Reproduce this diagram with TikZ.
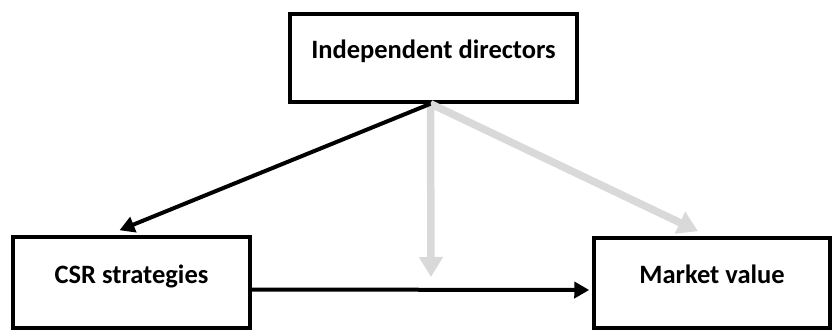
\documentclass[tikz,border=0pt]{standalone}
\usepackage{fontspec}
\setmainfont{Carlito}
\usepackage{tikz}
\usetikzlibrary{arrows.meta,calc}

\definecolor{lightgrey}{HTML}{D9D9D9}

\tikzset{
  varbox/.style={draw=black,line width=3.5pt,rectangle,fill=white,
    font=\bfseries\fontsize{26.5}{30}\selectfont,
    text height=18pt,text depth=17pt},
  mainarrow/.style={draw=black,line width=4pt,
    -{Triangle[length=15pt,width=16pt]}},
  modarrow/.style={draw=lightgrey,line width=7.5pt,
    -{Triangle[length=20pt,width=23pt,fill=lightgrey]}}
}

\begin{document}
\begin{tikzpicture}[x=1pt,y=1pt]
	\useasboundingbox (0,0) rectangle (832,330);
	
	\node[varbox,minimum width=287pt,minimum height=88pt] (indep) at (433.5,272) {Independent directors};
	\node[varbox,minimum width=237pt,minimum height=91pt] (csr) at (131.5,47.5) {CSR strategies};
	\node[varbox,minimum width=236pt,minimum height=90pt] (mv) at (712,47) {Market value};
	
	\coordinate (src) at ($(indep.south)+(-3,0)$);
	\coordinate (csrtip) at ($(csr.north)+(-12,5)$);
	\coordinate (modtip) at (431,53);
	\coordinate (mvtip) at ($(mv.north)+(-14,5)$);
	
	\path[modarrow] (src) -- (modtip);
	\path[modarrow] (src) -- (mvtip);
	\path[mainarrow] (src) -- (csrtip);
	\path[mainarrow] ($(csr.east)+(0,-7)$) -- ($(mv.west)+(-3,-7)$);
\end{tikzpicture}
\end{document}
